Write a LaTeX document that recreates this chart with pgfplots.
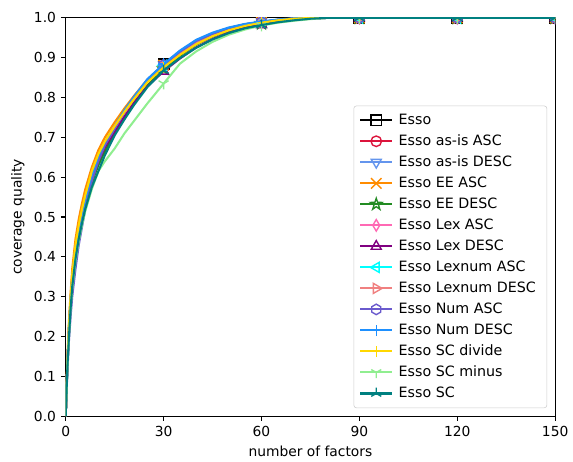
\documentclass[border=0pt]{standalone}
\usepackage{pgfplots}
\pgfplotsset{compat=1.18}
\usepackage{pgfplotstable}
\usepackage{fontspec}
\setmainfont{DejaVu Sans}

\definecolor{mcrimson}{RGB}{220,20,60}
\definecolor{mcornflower}{RGB}{100,149,237}
\definecolor{mdarkorange}{RGB}{255,140,0}
\definecolor{mforest}{RGB}{34,139,34}
\definecolor{mhotpink}{RGB}{255,105,180}
\definecolor{mpurple}{RGB}{128,0,128}
\definecolor{mcyan}{RGB}{0,255,255}
\definecolor{mlightcoral}{RGB}{240,128,128}
\definecolor{mslateblue}{RGB}{106,90,205}
\definecolor{mdodger}{RGB}{30,144,255}
\definecolor{mgold}{RGB}{255,215,0}
\definecolor{mlightgreen}{RGB}{144,238,144}
\definecolor{mteal}{RGB}{0,128,128}

\pgfdeclareplotmark{hexagon}{%
  \pgfpathmoveto{\pgfqpointpolar{90}{\pgfplotmarksize}}%
  \pgfpathlineto{\pgfqpointpolar{150}{\pgfplotmarksize}}%
  \pgfpathlineto{\pgfqpointpolar{210}{\pgfplotmarksize}}%
  \pgfpathlineto{\pgfqpointpolar{270}{\pgfplotmarksize}}%
  \pgfpathlineto{\pgfqpointpolar{330}{\pgfplotmarksize}}%
  \pgfpathlineto{\pgfqpointpolar{30}{\pgfplotmarksize}}%
  \pgfpathclose\pgfusepathqstroke}
\pgfdeclareplotmark{starpoly}{%
  \pgfpathmoveto{\pgfqpointpolar{90}{1.15\pgfplotmarksize}}%
  \pgfpathlineto{\pgfqpointpolar{126}{0.45\pgfplotmarksize}}%
  \pgfpathlineto{\pgfqpointpolar{162}{1.15\pgfplotmarksize}}%
  \pgfpathlineto{\pgfqpointpolar{198}{0.45\pgfplotmarksize}}%
  \pgfpathlineto{\pgfqpointpolar{234}{1.15\pgfplotmarksize}}%
  \pgfpathlineto{\pgfqpointpolar{270}{0.45\pgfplotmarksize}}%
  \pgfpathlineto{\pgfqpointpolar{306}{1.15\pgfplotmarksize}}%
  \pgfpathlineto{\pgfqpointpolar{342}{0.45\pgfplotmarksize}}%
  \pgfpathlineto{\pgfqpointpolar{18}{1.15\pgfplotmarksize}}%
  \pgfpathlineto{\pgfqpointpolar{54}{0.45\pgfplotmarksize}}%
  \pgfpathclose\pgfusepathqstroke}
\pgfdeclareplotmark{thindiamond}{%
  \pgfpathmoveto{\pgfqpoint{0pt}{1.1\pgfplotmarksize}}%
  \pgfpathlineto{\pgfqpoint{0.65\pgfplotmarksize}{0pt}}%
  \pgfpathlineto{\pgfqpoint{0pt}{-1.1\pgfplotmarksize}}%
  \pgfpathlineto{\pgfqpoint{-0.65\pgfplotmarksize}{0pt}}%
  \pgfpathclose\pgfusepathqstroke}
\pgfdeclareplotmark{triup}{%
  \pgfpathmoveto{\pgfqpointpolar{90}{1.1\pgfplotmarksize}}%
  \pgfpathlineto{\pgfqpointpolar{210}{1.1\pgfplotmarksize}}%
  \pgfpathlineto{\pgfqpointpolar{330}{1.1\pgfplotmarksize}}%
  \pgfpathclose\pgfusepathqstroke}
\pgfdeclareplotmark{tridownshape}{%
  \pgfpathmoveto{\pgfqpointpolar{270}{1.1\pgfplotmarksize}}%
  \pgfpathlineto{\pgfqpointpolar{30}{1.1\pgfplotmarksize}}%
  \pgfpathlineto{\pgfqpointpolar{150}{1.1\pgfplotmarksize}}%
  \pgfpathclose\pgfusepathqstroke}
\pgfdeclareplotmark{trileft}{%
  \pgfpathmoveto{\pgfqpointpolar{180}{1.1\pgfplotmarksize}}%
  \pgfpathlineto{\pgfqpointpolar{300}{1.1\pgfplotmarksize}}%
  \pgfpathlineto{\pgfqpointpolar{60}{1.1\pgfplotmarksize}}%
  \pgfpathclose\pgfusepathqstroke}
\pgfdeclareplotmark{triright}{%
  \pgfpathmoveto{\pgfqpointpolar{0}{1.1\pgfplotmarksize}}%
  \pgfpathlineto{\pgfqpointpolar{120}{1.1\pgfplotmarksize}}%
  \pgfpathlineto{\pgfqpointpolar{240}{1.1\pgfplotmarksize}}%
  \pgfpathclose\pgfusepathqstroke}
\pgfdeclareplotmark{Ydown}{%
  \pgfpathmoveto{\pgfpointorigin}\pgfpathlineto{\pgfqpointpolar{270}{1.1\pgfplotmarksize}}%
  \pgfpathmoveto{\pgfpointorigin}\pgfpathlineto{\pgfqpointpolar{30}{1.1\pgfplotmarksize}}%
  \pgfpathmoveto{\pgfpointorigin}\pgfpathlineto{\pgfqpointpolar{150}{1.1\pgfplotmarksize}}%
  \pgfusepathqstroke}
\pgfdeclareplotmark{Yup}{%
  \pgfpathmoveto{\pgfpointorigin}\pgfpathlineto{\pgfqpointpolar{90}{1.1\pgfplotmarksize}}%
  \pgfpathmoveto{\pgfpointorigin}\pgfpathlineto{\pgfqpointpolar{210}{1.1\pgfplotmarksize}}%
  \pgfpathmoveto{\pgfpointorigin}\pgfpathlineto{\pgfqpointpolar{330}{1.1\pgfplotmarksize}}%
  \pgfusepathqstroke}
\pgfdeclareplotmark{sq}{%
  \pgfpathrectangle{\pgfqpoint{-\pgfplotmarksize}{-\pgfplotmarksize}}{\pgfqpoint{2\pgfplotmarksize}{2\pgfplotmarksize}}%
  \pgfusepathqstroke}
\pgfdeclareplotmark{circ}{%
  \pgfpathcircle{\pgfpointorigin}{\pgfplotmarksize}\pgfusepathqstroke}
\pgfdeclareplotmark{xx}{%
  \pgfpathmoveto{\pgfqpoint{-\pgfplotmarksize}{-\pgfplotmarksize}}\pgfpathlineto{\pgfqpoint{\pgfplotmarksize}{\pgfplotmarksize}}%
  \pgfpathmoveto{\pgfqpoint{-\pgfplotmarksize}{\pgfplotmarksize}}\pgfpathlineto{\pgfqpoint{\pgfplotmarksize}{-\pgfplotmarksize}}%
  \pgfusepathqstroke}
\pgfdeclareplotmark{pl}{%
  \pgfpathmoveto{\pgfqpoint{-1.1\pgfplotmarksize}{0pt}}\pgfpathlineto{\pgfqpoint{1.1\pgfplotmarksize}{0pt}}%
  \pgfpathmoveto{\pgfqpoint{0pt}{-1.1\pgfplotmarksize}}\pgfpathlineto{\pgfqpoint{0pt}{1.1\pgfplotmarksize}}%
  \pgfusepathqstroke}
\pgfdeclareplotmark{vl}{%
  \pgfpathmoveto{\pgfqpoint{0pt}{-1.1\pgfplotmarksize}}\pgfpathlineto{\pgfqpoint{0pt}{1.1\pgfplotmarksize}}%
  \pgfusepathqstroke}

\pgfplotstableread{
x     esso  asA   asD   eeA   eeD   lxA   lxD   lnA   lnD   nmA   nmD   scd   scm   sc
0     0     0     0     0     0     0     0     0     0     0     0     0     0     0
0.5   0.13  0.13  0.13  0.14  0.125 0.13  0.12  0.13  0.13  0.11  0.13  0.135 0.12  0.12
1     0.22  0.22  0.22  0.24  0.21  0.22  0.21  0.22  0.22  0.19  0.22  0.23  0.20  0.20
1.5   0.29  0.29  0.29  0.31  0.28  0.29  0.28  0.29  0.29  0.25  0.29  0.30  0.27  0.27
2     0.345 0.345 0.343 0.37  0.335 0.345 0.335 0.345 0.345 0.30  0.345 0.355 0.32  0.325
3     0.42  0.42  0.418 0.445 0.41  0.42  0.41  0.42  0.42  0.37  0.42  0.43  0.39  0.395
4     0.47  0.47  0.468 0.495 0.455 0.468 0.46  0.47  0.47  0.43  0.47  0.48  0.44  0.445
5     0.51  0.508 0.505 0.535 0.49  0.505 0.50  0.51  0.51  0.475 0.51  0.52  0.48  0.485
6     0.545 0.543 0.54  0.57  0.525 0.54  0.535 0.545 0.545 0.52  0.545 0.555 0.515 0.52
8     0.605 0.60  0.60  0.625 0.585 0.60  0.595 0.605 0.603 0.59  0.605 0.615 0.57  0.575
10    0.65  0.648 0.645 0.668 0.63  0.645 0.64  0.65  0.648 0.64  0.652 0.658 0.615 0.615
12    0.685 0.683 0.682 0.70  0.665 0.682 0.675 0.685 0.683 0.68  0.688 0.69  0.64  0.655
15    0.725 0.722 0.722 0.738 0.71  0.72  0.715 0.725 0.723 0.722 0.728 0.728 0.672 0.705
18    0.765 0.763 0.763 0.773 0.75  0.762 0.752 0.765 0.763 0.763 0.768 0.764 0.71  0.745
21    0.80  0.797 0.799 0.805 0.787 0.798 0.787 0.80  0.798 0.80  0.803 0.797 0.742 0.782
25    0.843 0.841 0.843 0.845 0.83  0.841 0.828 0.843 0.841 0.843 0.846 0.838 0.785 0.826
30    0.884 0.880 0.882 0.881 0.872 0.879 0.866 0.881 0.878 0.882 0.884 0.876 0.835 0.868
35    0.915 0.914 0.916 0.913 0.905 0.914 0.898 0.915 0.914 0.915 0.918 0.907 0.885 0.899
40    0.942 0.941 0.944 0.94  0.933 0.941 0.926 0.942 0.941 0.942 0.945 0.934 0.916 0.925
45    0.96  0.959 0.961 0.958 0.953 0.959 0.947 0.96  0.959 0.96  0.963 0.954 0.94  0.946
50    0.974 0.973 0.975 0.972 0.968 0.973 0.963 0.974 0.973 0.974 0.976 0.969 0.958 0.962
55    0.984 0.983 0.984 0.982 0.979 0.983 0.975 0.984 0.983 0.984 0.985 0.98  0.971 0.974
60    0.99  0.989 0.99  0.989 0.986 0.989 0.983 0.99  0.989 0.99  0.991 0.988 0.981 0.982
65    0.995 0.995 0.995 0.994 0.992 0.995 0.99  0.995 0.995 0.995 0.996 0.994 0.988 0.989
70    0.998 0.998 0.998 0.998 0.996 0.998 0.995 0.998 0.998 0.998 0.999 0.998 0.993 0.994
75    1     1     1     1     0.999 1     0.998 1     1     1     1     1     0.997 0.998
80    1     1     1     1     1     1     1     1     1     1     1     1     1     1
90    1     1     1     1     1     1     1     1     1     1     1     1     1     1
120   1     1     1     1     1     1     1     1     1     1     1     1     1     1
150   1     1     1     1     1     1     1     1     1     1     1     1     1     1
}\datatable

\begin{document}
\begin{tikzpicture}
\begin{axis}[
  scale only axis,
  width=354pt, height=288pt,
  xmin=0, xmax=150, ymin=0, ymax=1,
  xtick={0,30,60,90,120,150},
  ytick={0,0.1,0.2,0.3,0.4,0.5,0.6,0.7,0.8,0.9,1},
  yticklabel style={/pgf/number format/fixed, /pgf/number format/fixed zerofill, /pgf/number format/precision=1},
  /pgf/number format/assume math mode=true,
  tick label style={font=\fontsize{10}{12}\selectfont},
  label style={font=\fontsize{10}{12}\selectfont},
  xlabel={number of factors},
  ylabel={coverage quality},
  tick align=outside,
  tick pos=left,
  major tick length=3.5pt,
  every tick/.style={black, line width=0.8pt},
  axis line style={line width=0.8pt},
  clip marker paths=true,
  every axis plot/.append style={line width=1.5pt, mark size=3.8pt, mark options={solid, line width=1pt}, mark indices={17,23,28,29,30}},
  legend image code/.code={\draw[mark indices={2}] plot coordinates {(0pt,0pt) (11.5pt,0pt) (23pt,0pt)};},
  legend cell align=left,
  legend style={at={(1,0)}, anchor=south east, xshift=-5.8pt, yshift=5.8pt,
    draw=black!20, rounded corners=2pt, fill=white, fill opacity=0.8, text opacity=1,
    font=\fontsize{10.3}{12}\selectfont, row sep=0pt, inner xsep=4pt, inner ysep=2.8pt,
    nodes={inner xsep=4pt, inner ysep=2.5pt, text height=8pt, text depth=2.2pt}},
]
\addplot[color=black, mark=sq] table[x=x,y=esso]{\datatable};
\addlegendentry{Esso}
\addplot[color=mcrimson, mark=circ] table[x=x,y=asA]{\datatable};
\addlegendentry{Esso as-is ASC}
\addplot[color=mcornflower, mark=tridownshape] table[x=x,y=asD]{\datatable};
\addlegendentry{Esso as-is DESC}
\addplot[color=mdarkorange, mark=xx] table[x=x,y=eeA]{\datatable};
\addlegendentry{Esso EE ASC}
\addplot[color=mforest, mark=starpoly] table[x=x,y=eeD]{\datatable};
\addlegendentry{Esso EE DESC}
\addplot[color=mhotpink, mark=thindiamond] table[x=x,y=lxA]{\datatable};
\addlegendentry{Esso Lex ASC}
\addplot[color=mpurple, mark=triup] table[x=x,y=lxD]{\datatable};
\addlegendentry{Esso Lex DESC}
\addplot[color=mcyan, mark=trileft] table[x=x,y=lnA]{\datatable};
\addlegendentry{Esso Lexnum ASC}
\addplot[color=mlightcoral, mark=triright] table[x=x,y=lnD]{\datatable};
\addlegendentry{Esso Lexnum DESC}
\addplot[color=mslateblue, mark=hexagon] table[x=x,y=nmA]{\datatable};
\addlegendentry{Esso Num ASC}
\addplot[color=mdodger, mark=pl] table[x=x,y=nmD]{\datatable};
\addlegendentry{Esso Num DESC}
\addplot[color=mgold, mark=vl] table[x=x,y=scd]{\datatable};
\addlegendentry{Esso SC divide}
\addplot[color=mlightgreen, mark=Ydown] table[x=x,y=scm]{\datatable};
\addlegendentry{Esso SC minus}
\addplot[color=mteal, mark=Yup] table[x=x,y=sc]{\datatable};
\addlegendentry{Esso SC}
\end{axis}
\path (current axis.south west) ++(-47.52pt,-30.96pt) rectangle ++(412.56pt,331.92pt);
\end{tikzpicture}
\end{document}
